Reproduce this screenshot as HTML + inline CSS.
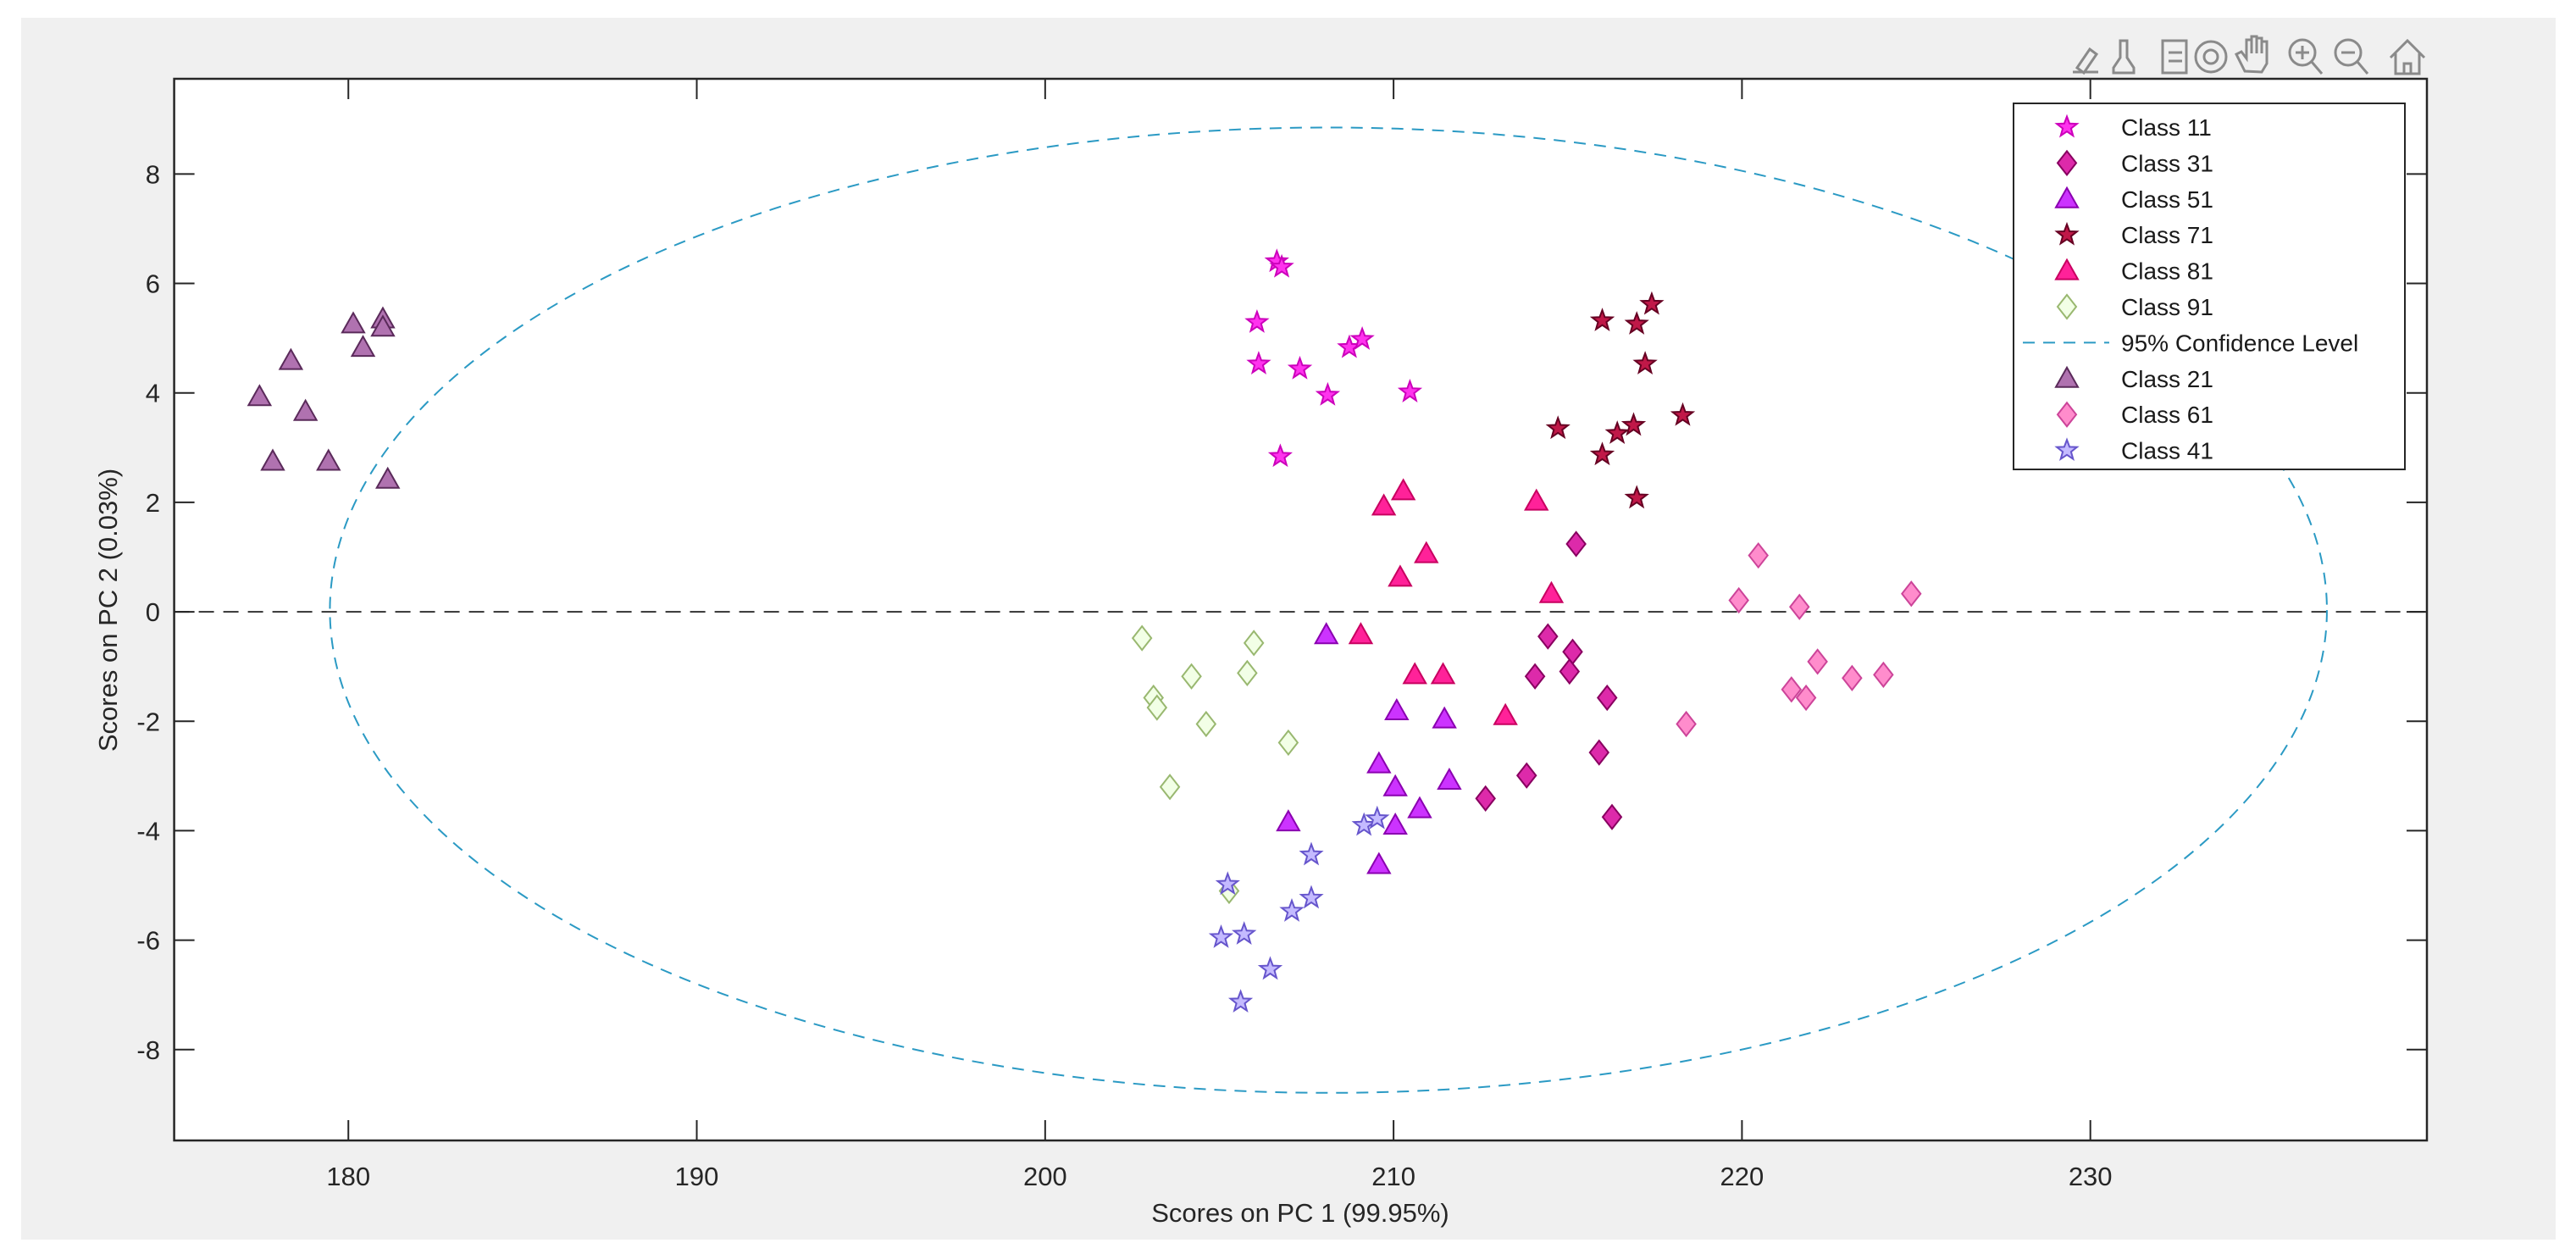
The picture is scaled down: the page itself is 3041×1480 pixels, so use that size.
<!DOCTYPE html>
<html><head><meta charset="utf-8"><style>
html,body{margin:0;padding:0;background:#fff;}
svg{display:block;font-family:"Liberation Sans",Arial,sans-serif;}
</style></head><body>
<svg id="chart" width="3041" height="1480" viewBox="0 0 3041 1480" xmlns="http://www.w3.org/2000/svg">
<rect x="25" y="21" width="2992" height="1442" fill="#f0f0f0"/>
<rect x="205.6" y="93" width="2659.4" height="1253" fill="#fff"/>
<g id="grid"></g>
<g id="marks"></g>
<rect x="205.6" y="93" width="2659.4" height="1253" fill="none" stroke="#262626" stroke-width="2.5"/>
<g id="ticks"></g>
<text x="1535" y="1442" font-size="31" text-anchor="middle" fill="#262626">Scores on PC 1 (99.95%)</text>
<text transform="translate(138,720) rotate(-90)" font-size="31" text-anchor="middle" fill="#262626">Scores on PC 2 (0.03%)</text>
<g stroke="#8a8a8a" stroke-width="3" fill="none">
  <path d="M2447 85 l30 0 M2452 80 l15 -22 l8 6 l-15 22z"/>
  <path d="M2503 48 h8 v20 l8 12 v6 h-24 v-6 l8 -12z"/>
  <rect x="2553" y="48" width="28" height="38"/>
  <path d="M2560 62 h16 M2560 72 h16"/>
  <circle cx="2610" cy="67" r="18"/>
  <circle cx="2610" cy="67" r="8"/>
  <path d="M2650 84 l-10 -20 l6 -3 l6 8 v-22 h6 v16 v-20 h6 v20 v-18 h6 v18 v-14 h6 v26 l-6 10z"/>
  <circle cx="2718" cy="62" r="15"/>
  <path d="M2729 73 l12 14 M2710 62 h16 M2718 54 v16"/>
  <circle cx="2772" cy="62" r="15"/>
  <path d="M2783 73 l12 14 M2764 62 h16"/>
  <path d="M2822 68 l20 -20 l20 20 M2828 63 v24 h28 v-24 M2838 87 v-12 h8 v12"/>
</g>
<g id="legend"></g>
</svg>
<script>
const xTicks = [180, 190, 200, 210, 220, 230];
const yTicks = [-8, -6, -4, -2, 0, 2, 4, 6, 8];
const xLim = [175.0, 239.66];
const yLim = [-9.66, 9.74];
const classNames = ["Class 11","Class 31","Class 51","Class 71","Class 81","Class 91","Class 21","Class 61","Class 41"];
const class11X = [206.65,206.79,206.08,206.13,207.31,208.11,208.73,209.1,210.47,206.75];
const class11Y = [6.4,6.3,5.29,4.53,4.44,3.96,4.83,4.98,4.02,2.84];
const class31X = [215.24,214.43,215.14,214.06,215.05,216.13,215.9,212.64,213.82,216.27];
const class31Y = [1.24,-0.45,-0.73,-1.18,-1.09,-1.57,-2.57,-3.41,-2.99,-3.75];
const class51X = [208.07,210.09,211.46,209.58,210.05,211.6,210.75,210.05,206.98,209.58];
const class51Y = [-0.42,-1.81,-1.96,-2.78,-3.2,-3.08,-3.6,-3.9,-3.84,-4.62];
const class71X = [215.99,216.98,217.41,217.22,218.3,214.72,216.42,216.89,215.99,216.98];
const class71Y = [5.32,5.26,5.62,4.53,3.59,3.35,3.26,3.41,2.87,2.08];
const class81X = [209.72,210.28,214.1,210.94,210.19,214.53,209.06,210.61,211.42,213.21];
const class81Y = [1.93,2.21,2.02,1.06,0.63,0.33,-0.42,-1.15,-1.15,-1.9];
const class91X = [202.78,205.99,203.11,203.21,204.2,205.8,204.62,206.98,203.58,205.28];
const class91Y = [-0.48,-0.57,-1.57,-1.75,-1.18,-1.12,-2.05,-2.39,-3.2,-5.1];
const class21X = [177.45,178.35,178.77,177.83,179.43,180.14,180.42,180.99,180.99,181.13];
const class21Y = [3.93,4.59,3.66,2.75,2.75,5.26,4.83,5.35,5.2,2.42];
const class61X = [220.47,219.91,221.65,224.86,222.17,224.06,223.16,221.42,221.84,218.4];
const class61Y = [1.03,0.21,0.09,0.33,-0.91,-1.15,-1.21,-1.42,-1.57,-2.05];
const class41X = [205.24,207.64,209.15,209.53,207.08,207.64,205.05,205.71,206.46,205.61];
const class41Y = [-4.98,-4.44,-3.9,-3.78,-5.47,-5.23,-5.95,-5.89,-6.53,-7.13];
const ellipseCenter = [208.13, 0.03];
const ellipseRadii = [28.66, 8.82];

const NS = "http://www.w3.org/2000/svg";
const L = 205.6, R = 2865, T = 93, B = 1346;
function sx(v){ return L + (v - xLim[0]) / (xLim[1] - xLim[0]) * (R - L); }
function sy(v){ return B - (v - yLim[0]) / (yLim[1] - yLim[0]) * (B - T); }
function mk(tag, attrs, parent){ const e = document.createElementNS(NS, tag); for (const k in attrs) e.setAttribute(k, attrs[k]); parent.appendChild(e); return e; }

const styles = [
  {shape:"star", fill:"#ff33ee", stroke:"#cc00bb"},
  {shape:"diamond", fill:"#dd2aaa", stroke:"#880060"},
  {shape:"tri", fill:"#cc33ff", stroke:"#8a00b0"},
  {shape:"star", fill:"#c01848", stroke:"#660022"},
  {shape:"tri", fill:"#ff2299", stroke:"#c80060"},
  {shape:"diamond", fill:"#f2ffe6", stroke:"#99b870"},
  {shape:"tri", fill:"#b072b0", stroke:"#5a2a5a"},
  {shape:"diamond", fill:"#ff8ccc", stroke:"#cc4499"},
  {shape:"star", fill:"#c4baff", stroke:"#6655cc"}
];
const seriesX = [class11X,class31X,class51X,class71X,class81X,class91X,class21X,class61X,class41X];
const seriesY = [class11Y,class31Y,class51Y,class71Y,class81Y,class91Y,class21Y,class61Y,class41Y];

function shapePath(shape, cx, cy){
  if (shape === "tri") return `M${cx} ${cy-13} L${cx+13} ${cy+10} L${cx-13} ${cy+10}Z`;
  if (shape === "diamond") return `M${cx} ${cy-14} L${cx+11} ${cy} L${cx} ${cy+14} L${cx-11} ${cy}Z`;
  let d = "";
  for (let i = 0; i < 10; i++){
    const r = i % 2 === 0 ? 12.5 : 5.2;
    const a = -Math.PI/2 + i * Math.PI/5;
    d += (i ? "L" : "M") + (cx + r*Math.cos(a)).toFixed(1) + " " + (cy + r*Math.sin(a)).toFixed(1);
  }
  return d + "Z";
}

const ticks = document.getElementById("ticks");
xTicks.forEach(v => {
  const x = sx(v);
  const t1 = mk("line", {x1:x, x2:x, y1:B, y2:B-24, stroke:"#262626", "stroke-width":2}, ticks);
  
  
  const t2 = mk("line", {x1:x, x2:x, y1:T, y2:T+24, stroke:"#262626", "stroke-width":2}, ticks);
  
  
  const lb = mk("text", {x:x, y:1399, "font-size":31, "text-anchor":"middle", fill:"#262626"}, ticks);
  
  
  lb.textContent = v;
});
yTicks.forEach(v => {
  const y = sy(v);
  const t1 = mk("line", {x1:L, x2:L+24, y1:y, y2:y, stroke:"#262626", "stroke-width":2}, ticks);
  
  
  const t2 = mk("line", {x1:R, x2:R-24, y1:y, y2:y, stroke:"#262626", "stroke-width":2}, ticks);
  
  
  const lb = mk("text", {x:189, y:y+11, "font-size":31, "text-anchor":"end", fill:"#262626"}, ticks);
  
  
  lb.textContent = v;
});

const grid = document.getElementById("grid");
const zl = mk("line", {x1:L, x2:R, y1:sy(0), y2:sy(0), stroke:"#404040", "stroke-width":2.2, "stroke-dasharray":"18 11"}, grid);


const el = mk("ellipse", {cx:sx(ellipseCenter[0]), cy:sy(ellipseCenter[1]),
  rx:sx(ellipseCenter[0]+ellipseRadii[0]) - sx(ellipseCenter[0]),
  ry:sy(ellipseCenter[1]) - sy(ellipseCenter[1]+ellipseRadii[1]),
  fill:"none", stroke:"#2b9ac4", "stroke-width":2, "stroke-dasharray":"14 10"}, grid);



const marks = document.getElementById("marks");
seriesX.forEach((xs, s) => {
  const g = mk("g", {}, marks);
  
  
  xs.forEach((xv, i) => {
    const p = mk("path", {d:shapePath(styles[s].shape, sx(xv), sy(seriesY[s][i])), fill:styles[s].fill, stroke:styles[s].stroke, "stroke-width":2, "stroke-linejoin":"miter"}, g);
    
    
  });
});

const legend = document.getElementById("legend");
const lbox = mk("rect", {x:2377, y:122, width:462, height:432, fill:"#fff", stroke:"#262626", "stroke-width":2}, legend);


const legendOrder = [0,1,2,3,4,5,-1,6,7,8];
legendOrder.forEach((s, r) => {
  const cy = 150 + r * 42.4;
  const g = mk("g", {}, legend);
  
  
  if (s < 0) {
    mk("line", {x1:2388, x2:2490, y1:cy, y2:cy, stroke:"#2b9ac4", "stroke-width":2, "stroke-dasharray":"14 10"}, g);
  } else {
    mk("path", {d:shapePath(styles[s].shape, 2440, cy), fill:styles[s].fill, stroke:styles[s].stroke, "stroke-width":2}, g);
  }
  const t = mk("text", {x:2504, y:cy+10, "font-size":28, fill:"#1a1a1a"}, g);
  t.textContent = s < 0 ? "95% Confidence Level" : classNames[s];
});
</script>
</body></html>
